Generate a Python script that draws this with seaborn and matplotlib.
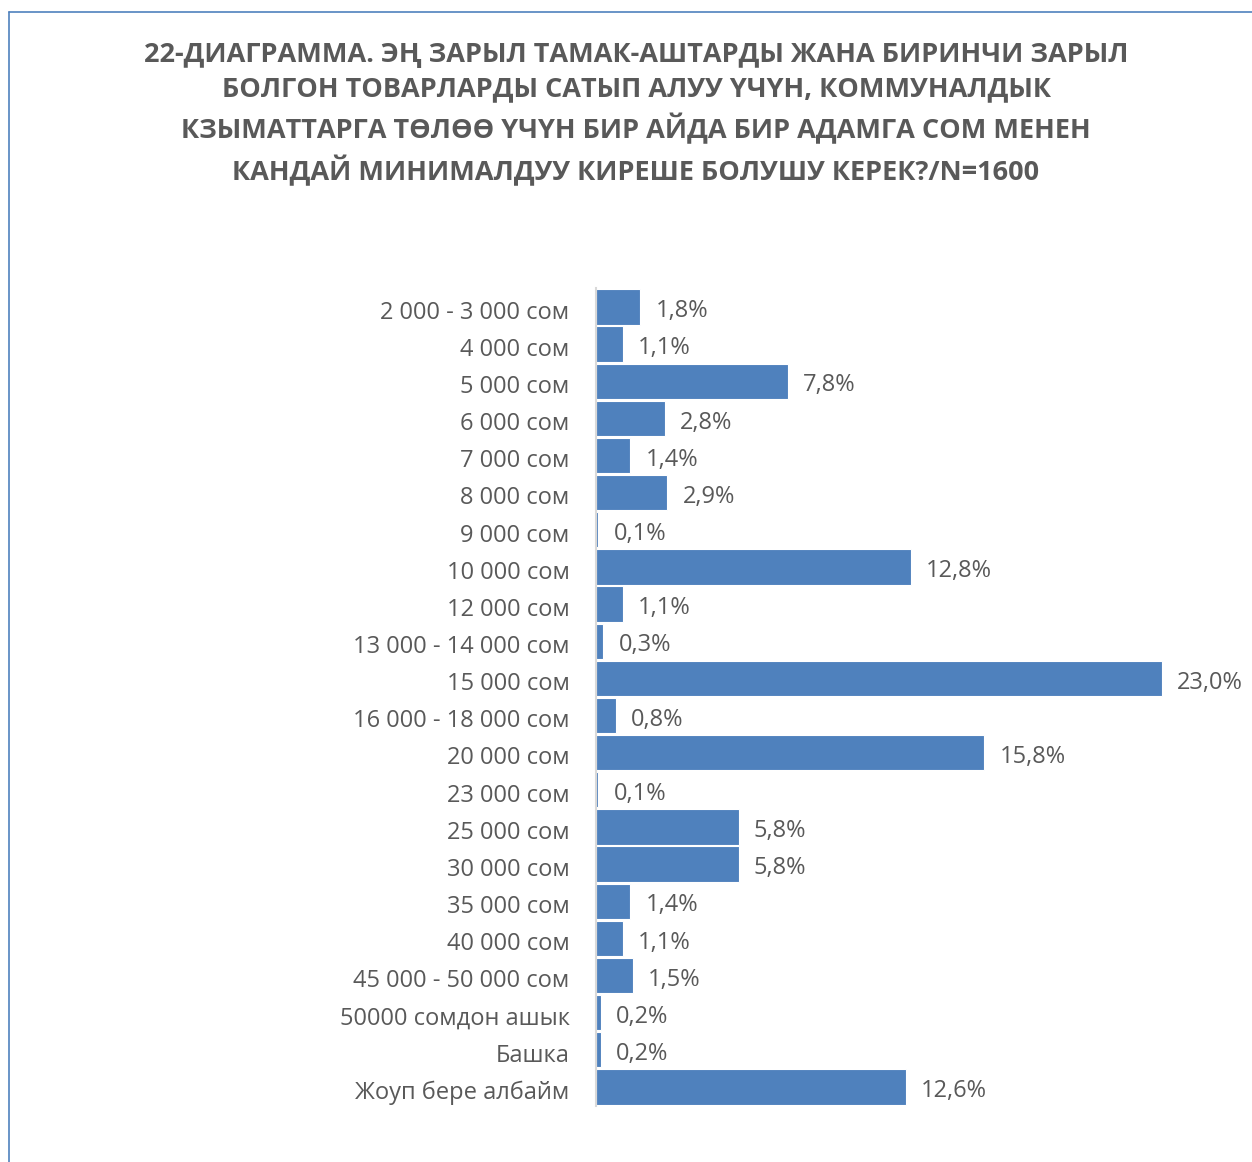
import matplotlib
matplotlib.use("Agg")
import matplotlib.pyplot as plt
import matplotlib.transforms as mtransforms
import seaborn as sns
import pandas as pd

# ---- data ----
categories = [
    "2 000 - 3 000 сом", "4 000 сом", "5 000 сом", "6 000 сом", "7 000 сом",
    "8 000 сом", "9 000 сом", "10 000 сом", "12 000 сом", "13 000 - 14 000 сом",
    "15 000 сом", "16 000 - 18 000 сом", "20 000 сом", "23 000 сом", "25 000 сом",
    "30 000 сом", "35 000 сом", "40 000 сом", "45 000 - 50 000 сом",
    "50000 сомдон ашык", "Башка", "Жоуп бере албайм",
]
shares = [1.8, 1.1, 7.8, 2.8, 1.4, 2.9, 0.1, 12.8, 1.1, 0.3, 23.0, 0.8,
          15.8, 0.1, 5.8, 5.8, 1.4, 1.1, 1.5, 0.2, 0.2, 12.6]
value_labels = [f"{v:.1f}%".replace(".", ",") for v in shares]

title = ("22-ДИАГРАММА. ЭҢ ЗАРЫЛ ТАМАК-АШТАРДЫ ЖАНА БИРИНЧИ ЗАРЫЛ\n"
         "БОЛГОН ТОВАРЛАРДЫ САТЫП АЛУУ ҮЧҮН, КОММУНАЛДЫК\n"
         "КЗЫМАТТАРГА ТӨЛӨӨ ҮЧҮН БИР АЙДА БИР АДАМГА СОМ МЕНЕН\n"
         "КАНДАЙ МИНИМАЛДУУ КИРЕШЕ БОЛУШУ КЕРЕК?/N=1600")

df = pd.DataFrame({"category": categories, "share": shares})

sns.set_theme(style="white")
plt.rcParams["font.family"] = ["Open Sans", "DejaVu Sans"]

text_color = "#595959"
bar_color = "#4F81BD"

fig = plt.figure(figsize=(12.52, 11.62), dpi=100)
ax = fig.add_axes([0.476, 0.0486, 0.491, 0.7032])

sns.barplot(data=df, x="share", y="category", orient="h", color=bar_color,
            saturation=1, width=0.95, edgecolor="white", linewidth=0.8, ax=ax)

for i, (v, lab) in enumerate(zip(shares, value_labels)):
    ax.annotate(lab, xy=(v, i), xytext=(11, -3), textcoords="offset points",
                va="center", ha="left", fontsize=17, color=text_color)

ax.set_xlim(0, 25)
ax.set_ylim(len(categories) - 0.5, -0.5)
ax.set_xlabel("")
ax.set_ylabel("")
ax.set_xticks([])
ax.tick_params(axis="y", length=0, pad=19, labelsize=17, labelcolor=text_color)
# nudge category labels down a touch
shift = mtransforms.ScaledTranslation(0, -2 / 72, fig.dpi_scale_trans)
for lbl in ax.get_yticklabels():
    lbl.set_transform(lbl.get_transform() + shift)
for s in ["top", "right", "bottom"]:
    ax.spines[s].set_visible(False)
ax.spines["left"].set_color("#D9D9D9")
ax.spines["left"].set_linewidth(1.5)

fig.text(0.508, 0.964, title, ha="center", va="top", fontsize=19.5,
         fontweight="bold", color=text_color, linespacing=1.42)

# outer frame (left and top lines)
fig.add_artist(plt.Line2D([0.0072, 0.0072], [0, 0.9897], color="#4F81BD",
                          linewidth=1.2, transform=fig.transFigure))
fig.add_artist(plt.Line2D([0.0072, 1.0], [0.9897, 0.9897], color="#4F81BD",
                          linewidth=1.2, transform=fig.transFigure))

fig.savefig("out.png", dpi=100, facecolor="white")
